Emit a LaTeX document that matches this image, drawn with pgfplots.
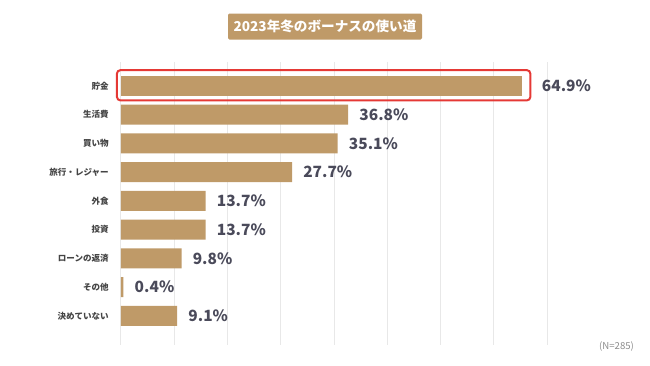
\documentclass[border=0pt]{standalone}
\usepackage{fontspec}
\setmainfont{Noto Sans CJK JP}
\usepackage{pgfplots}
\pgfplotsset{compat=1.18}
\definecolor{bar}{HTML}{BF9A68}
\definecolor{lab}{HTML}{444444}
\definecolor{val}{HTML}{4A4A5A}
\definecolor{gridc}{HTML}{E8E8E8}
\definecolor{redbox}{HTML}{E53935}
\begin{document}
\begin{tikzpicture}
\useasboundingbox (0,0) rectangle (487.5pt,274.5pt);
\node[fill=bar, minimum width=145.5pt, minimum height=19.5pt, inner sep=0pt, rounded corners=1pt, text=white, font=\bfseries\fontsize{10.2pt}{12pt}\selectfont] at (243.75pt,254.6pt) {2023年冬のボーナスの使い道};
\node[text=gray!90, font=\fontsize{7.2pt}{8pt}\selectfont] at (462.4pt,14.25pt) {(N=285)};
\begin{axis}[
  at={(90.75pt,15.75pt)}, anchor=south west,
  scale only axis, width=319.5pt, height=212.25pt,
  xmin=0, xmax=69, ymin=-0.835, ymax=9.01, y dir=reverse,
  xbar, bar width=15pt, bar shift=0pt,
  xtick={0,8.625,17.25,25.875,34.5,43.125,51.75,60.375,69},
  xticklabels={},
  xmajorgrids, grid style={gridc, line width=0.75pt},
  ytick={0,...,8},
  yticklabels={貯金,生活費,買い物,旅行・レジャー,外食,投資,ローンの返済,その他,決めていない},
  yticklabel style={font=\bfseries\fontsize{6.4pt}{8pt}\selectfont, text=lab, inner sep=0pt, xshift=-9pt},
  major tick length=0pt,
  axis line style={draw=none}, tick style={draw=none},
  clip=false,
  nodes near coords={\pgfmathprintnumber[fixed,precision=1,fixed zerofill,assume math mode=true]{\pgfplotspointmeta}\%},
  nodes near coords style={anchor=west, inner sep=0pt, text=val, font=\bfseries\fontsize{11.6pt}{14pt}\selectfont},
]
\addplot[fill=bar, draw=none, nodes near coords style={xshift=8.25pt}] coordinates {
(36.8,1) (35.1,2) (27.7,3) (13.7,4) (13.7,5) (9.8,6) (0.4,7) (9.1,8)};
\addplot[fill=bar, draw=none, nodes near coords style={xshift=15pt}] coordinates {(64.9,0)};
\draw[redbox, line width=1.5pt, rounded corners=2.5pt] (axis cs:-0.65,-0.55) rectangle (axis cs:66.3,0.5);
\end{axis}
\end{tikzpicture}
\end{document}
